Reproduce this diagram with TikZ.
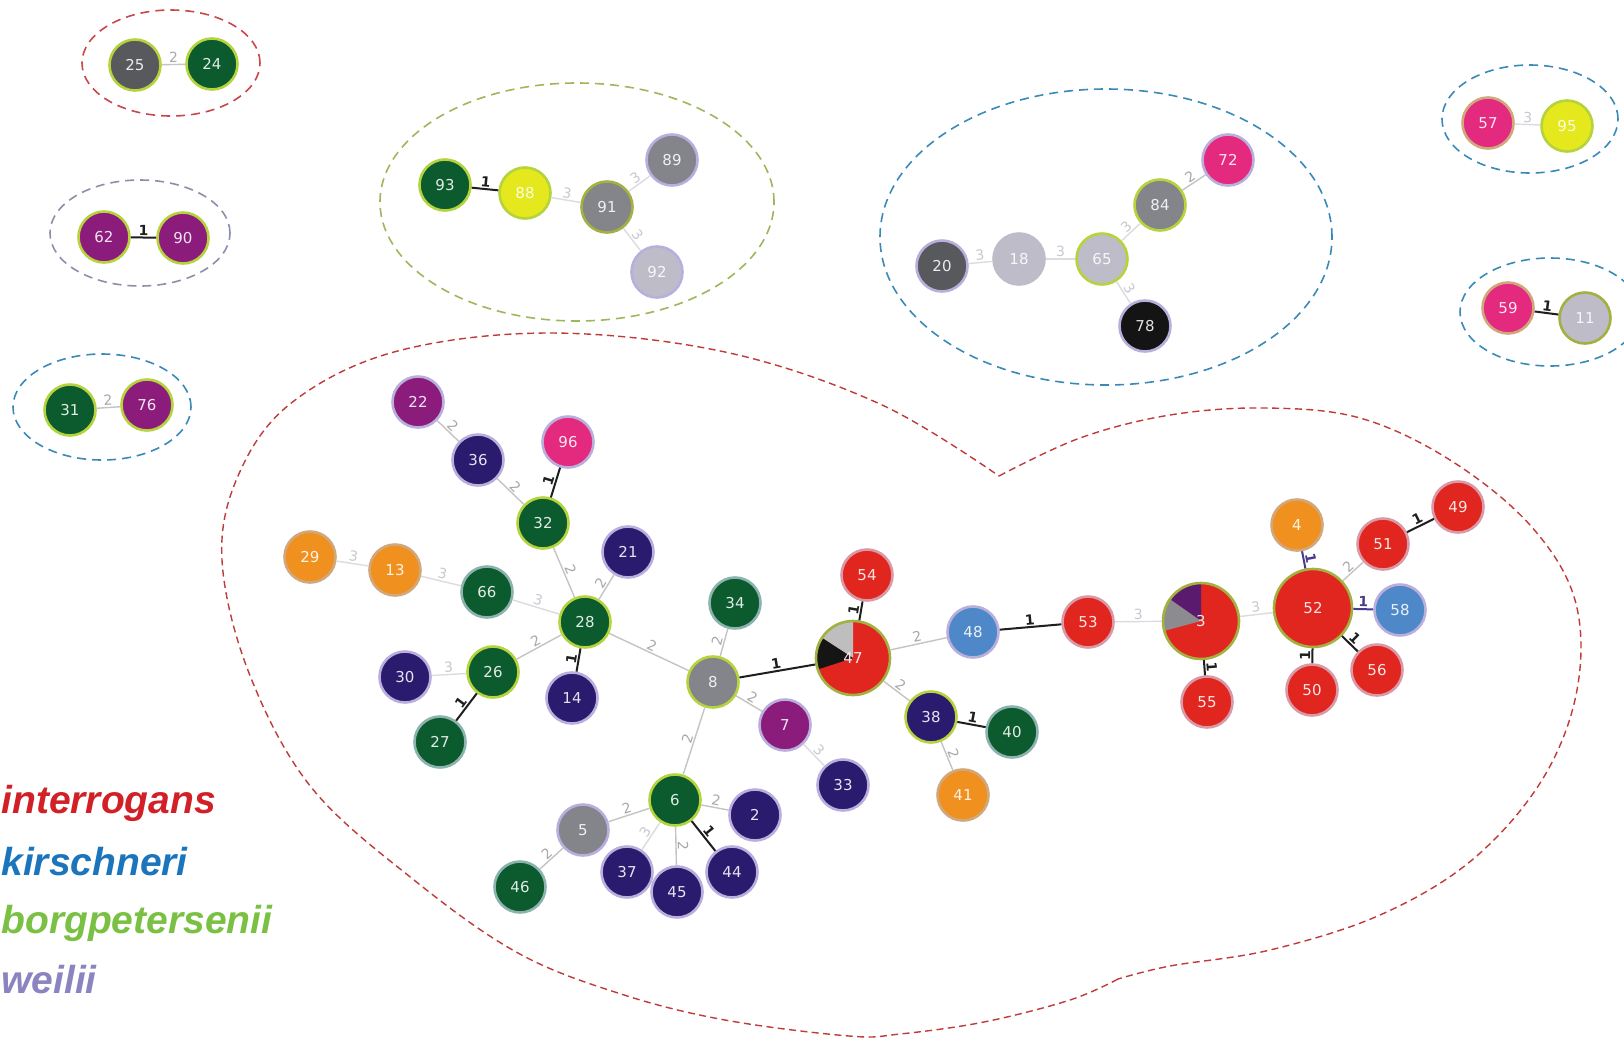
\documentclass[tikz,border=0pt]{standalone}
\usepackage{fontspec}
\setmainfont{DejaVu Sans}
\newfontfamily\legendfont{Liberation Sans}
\usetikzlibrary{positioning}

\definecolor{dkgreen}{HTML}{0B5B2E}
\definecolor{navy}{HTML}{2A1B6E}
\definecolor{purple}{HTML}{8B1C7C}
\definecolor{pink}{HTML}{E42A7E}
\definecolor{redc}{HTML}{E0261E}
\definecolor{orange}{HTML}{F0911F}
\definecolor{bluec}{HTML}{4F88C8}
\definecolor{yellowc}{HTML}{E4E81C}
\definecolor{grayc}{HTML}{83858B}
\definecolor{ltgray}{HTML}{BDBCC8}
\definecolor{dkgray}{HTML}{58595C}
\definecolor{blackc}{HTML}{141414}
\definecolor{yg}{HTML}{B5D33D}
\definecolor{olive}{HTML}{A4B040}
\definecolor{lav}{HTML}{B9AEDC}
\definecolor{tan}{HTML}{D0A87C}
\definecolor{teal}{HTML}{8DB3AE}
\definecolor{rose}{HTML}{D99AA8}
\definecolor{edgeblack}{HTML}{1E1E1E}
\definecolor{edgegray}{HTML}{C4C4C4}
\definecolor{edgelight}{HTML}{DCDCE0}
\definecolor{lblgray}{HTML}{A8A8A8}
\definecolor{lbllight}{HTML}{C8C8D2}
\definecolor{piegray}{HTML}{BEBEBE}
\definecolor{pieblack}{HTML}{151515}
\definecolor{piepurple}{HTML}{5A1A6E}
\definecolor{piegraytwo}{HTML}{8C8C90}
\definecolor{hullred}{HTML}{C8474A}
\definecolor{hullgray}{HTML}{8A90A8}
\definecolor{hullblue}{HTML}{3A8AB8}
\definecolor{hullgreen}{HTML}{9CB85A}
\definecolor{mainred}{HTML}{C03A3A}
\definecolor{lgred}{HTML}{D22027}
\definecolor{lgblue}{HTML}{1B75BC}
\definecolor{lggreen}{HTML}{7AC143}
\definecolor{lgviolet}{HTML}{8A84C0}
\definecolor{purpedge}{HTML}{4A3A8A}

\begin{document}
\begin{tikzpicture}[
    x=0.5pt, y=-0.5pt,
    st/.style 2 args={circle, minimum size=25.5pt, inner sep=0pt, fill=#1, draw=#2,
        line width=1.3pt, text=#1!12!white, font=\fontsize{7.5}{8}\selectfont},
    d1/.style={draw=edgeblack, line width=1pt},
    d2/.style={draw=edgegray, line width=0.7pt},
    d3/.style={draw=edgelight, line width=0.7pt},
    l1/.style={font=\fontsize{7}{7}\selectfont\bfseries, text=edgeblack, sloped, above, inner sep=0.6pt},
    l2/.style={font=\fontsize{7}{7}\selectfont, text=lblgray, sloped, above, inner sep=0.6pt},
    l3/.style={font=\fontsize{7}{7}\selectfont, text=lbllight, sloped, above, inner sep=0.6pt},
    hull/.style={dash pattern=on 4.5pt off 3pt, line width=0.8pt},
    boundary/.style={draw=mainred, dash pattern=on 3.5pt off 2.2pt, line width=0.7pt},
    legend/.style={anchor=mid west, inner sep=0pt,
        font=\legendfont\bfseries\itshape\fontsize{19.5}{20}\selectfont},
    pieA/.style={path picture={
        \fill[piegray] (path picture bounding box.center) -- ++(90:30pt)
            arc[start angle=90, end angle=147, radius=30pt] -- cycle;
        \fill[pieblack] (path picture bounding box.center) -- ++(147:30pt)
            arc[start angle=147, end angle=198, radius=30pt] -- cycle;}},
    pieB/.style={path picture={
        \fill[piepurple] (path picture bounding box.center) -- ++(90:30pt)
            arc[start angle=90, end angle=145, radius=30pt] -- cycle;
        \fill[piegraytwo] (path picture bounding box.center) -- ++(145:30pt)
            arc[start angle=145, end angle=195, radius=30pt] -- cycle;}}
]
\useasboundingbox (0,0) rectangle (1624,1040);
\fill[white] (0,0) rectangle (1624,1040);
\clip (0,0) rectangle (1624,1040);

% groups
\draw[hull, hullred] (171,63) ellipse[x radius=44.5pt, y radius=26.5pt];
\draw[hull, hullgray] (140,233) ellipse[x radius=45pt, y radius=26.5pt];
\draw[hull, hullblue] (102,407) ellipse[x radius=44.5pt, y radius=26.5pt];
\draw[hull, hullgreen] (577,202) ellipse[x radius=98.5pt, y radius=59.5pt];
\draw[hull, hullblue] (1106,237) ellipse[x radius=113pt, y radius=74pt];
\draw[hull, hullblue] (1530,119) ellipse[x radius=44pt, y radius=27pt];
\draw[hull, hullblue] (1550,312) ellipse[x radius=45pt, y radius=27pt];

% main complex
\draw[boundary] plot[smooth, tension=0.6] coordinates {(999,476) (1080,438) (1170,415)
    (1265,408) (1360,418) (1450,460) (1530,525) (1575,600) (1577,690) (1542,780)
    (1472,860) (1380,915) (1270,950) (1170,966) (1118,979)};
\draw[boundary] plot[smooth, tension=0.6] coordinates {(1118,979) (1070,1000)
    (984,1022) (900,1034) (849,1036) (725,1020) (621,994) (518,953) (414,880)
    (311,787) (249,673) (222,560) (238,476) (290,404) (394,352) (549,333)
    (725,352) (880,404) (999,476)};

% sequence types
\foreach \n/\x/\y/\f/\b in {
    25/135/65/dkgray/yg, 24/212/64/dkgreen/yg, 62/104/237/purple/yg,
    90/183/238/purple/yg, 31/70/410/dkgreen/yg, 76/147/405/purple/yg,
    93/445/185/dkgreen/yg, 88/525/193/yellowc/yg, 91/607/207/grayc/olive,
    89/672/160/grayc/lav, 92/657/272/ltgray/lav, 20/942/266/dkgray/lav,
    18/1019/259/ltgray/ltgray, 65/1102/259/ltgray/yg, 84/1160/205/grayc/yg,
    72/1228/160/pink/lav, 78/1145/326/blackc/lav, 57/1488/123/pink/tan,
    95/1567/126/yellowc/yg, 59/1508/308/pink/tan, 11/1585/318/ltgray/olive,
    22/418/402/purple/lav, 36/478/460/navy/lav, 96/568/442/pink/lav,
    32/543/523/dkgreen/yg, 21/628/552/navy/lav, 29/310/557/orange/tan,
    13/395/570/orange/tan, 66/487/592/dkgreen/teal, 28/585/622/dkgreen/yg,
    26/493/672/dkgreen/yg, 30/405/677/navy/lav, 14/572/698/navy/lav,
    27/440/742/dkgreen/teal, 8/713/682/grayc/yg, 7/785/725/purple/lav,
    33/843/785/navy/lav, 6/675/800/dkgreen/yg, 2/755/815/navy/lav,
    5/583/830/grayc/lav, 46/520/887/dkgreen/teal, 37/627/872/navy/lav,
    45/677/892/navy/lav, 44/732/872/navy/lav, 34/735/603/dkgreen/teal,
    54/867/575/redc/rose, 48/973/632/bluec/lav, 53/1088/622/redc/rose,
    38/931/717/navy/yg, 40/1012/732/dkgreen/teal, 41/963/795/orange/tan,
    4/1297/525/orange/tan, 51/1383/544/redc/rose, 49/1458/507/redc/rose,
    58/1400/610/bluec/lav, 56/1377/670/redc/rose, 50/1312/690/redc/rose,
    55/1207/702/redc/rose}
  \node[st={\f}{\b}] (n\n) at (\x,\y) {\n};

\node[st={redc}{olive}, minimum size=37pt, pieA] (n47) at (853,658) {47};
\node[st={redc}{olive}, minimum size=38pt, pieB] (n3) at (1201,621) {3};
\node[st={redc}{olive}, minimum size=39pt] (n52) at (1313,608) {52};

% links, labelled with the number of differing loci
\foreach \a/\b/\w in {
    25/24/2, 62/90/1, 31/76/2, 93/88/1, 88/91/3, 91/89/3, 91/92/3,
    20/18/3, 18/65/3, 65/84/3, 84/72/2, 65/78/3, 57/95/3, 59/11/1,
    22/36/2, 36/32/2, 32/96/1, 32/28/2, 28/21/2, 29/13/3, 13/66/3,
    66/28/3, 26/28/2, 30/26/3, 27/26/1, 14/28/1, 28/8/2, 8/34/2,
    8/47/1, 8/7/2, 7/33/3, 8/6/2, 6/2/2, 5/6/2, 46/5/2, 6/37/3,
    6/45/2, 6/44/1, 47/54/1, 47/48/2, 47/38/2, 38/40/1, 38/41/2,
    48/53/1, 53/3/3, 3/55/1, 3/52/3, 52/51/2, 51/49/1, 52/56/1, 52/50/1}
  \draw[d\w] (n\a) -- node[l\w] (e\a-\b) {\w} (n\b);
\draw[d1, draw=purpedge] (n52) -- node[l1, text=purpedge] (e52-4) {1} (n4);
\draw[d1, draw=purpedge] (n52) -- node[l1, text=purpedge] (e52-58) {1} (n58);

% species
\node[legend, text=lgred] (lgint) at (1,808) {interrogans};
\node[legend, text=lgblue] (lgkir) at (1,870) {kirschneri};
\node[legend, text=lggreen] (lgbor) at (1,928) {borgpetersenii};
\node[legend, text=lgviolet] (lgwei) at (1,988) {weilii};
\end{tikzpicture}
\end{document}
